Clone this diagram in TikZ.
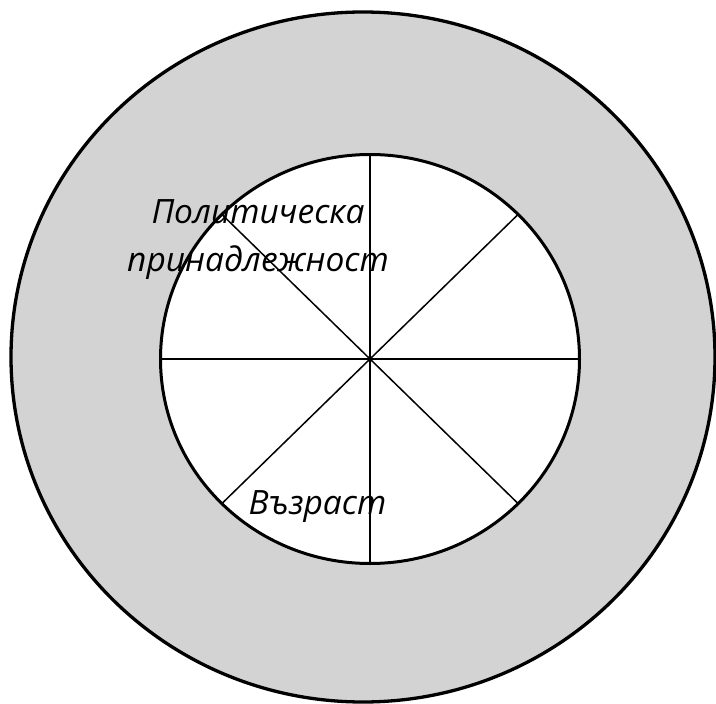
\documentclass[tikz,border=0pt]{standalone}
\usepackage{fontspec}
\setmainfont{Open Sans}
\usepackage{tikz}
\usetikzlibrary{calc}
\definecolor{ringgray}{RGB}{211,211,211}

\begin{document}
\begin{tikzpicture}[
    x=1pt, y=-1pt,
    ring/.style={draw=black, line width=3.3pt, fill=ringgray},
    core/.style={draw=black, line width=3pt},
    spoke/.style={draw=black, line width=1.5pt},
    label/.style={font=\fontsize{33.5}{48}\selectfont\itshape, inner sep=0pt,
      align=center},
  ]
  \useasboundingbox (0,0) rectangle (716,704);

  % Outer ring
  \filldraw[ring] (363,357) ellipse [x radius=352, y radius=345];

  % Inner disc
  \coordinate (hub) at (370,359);
  \fill[white] (hub) ellipse [x radius=209.5, y radius=204.5];

  % Spokes
  \foreach \a in {0,45,...,315}
    \draw[spoke] (hub) -- ($(hub)+(\a:209.5 and 204.5)$);

  \draw[core] (hub) ellipse [x radius=209.5, y radius=204.5];

  % Labels
  \node[label, anchor=base] (party) at (258,271) {Политическа\\принадлежност};
  \node[label, anchor=base] (age) at (317.5,514) {Възраст};
\end{tikzpicture}
\end{document}
